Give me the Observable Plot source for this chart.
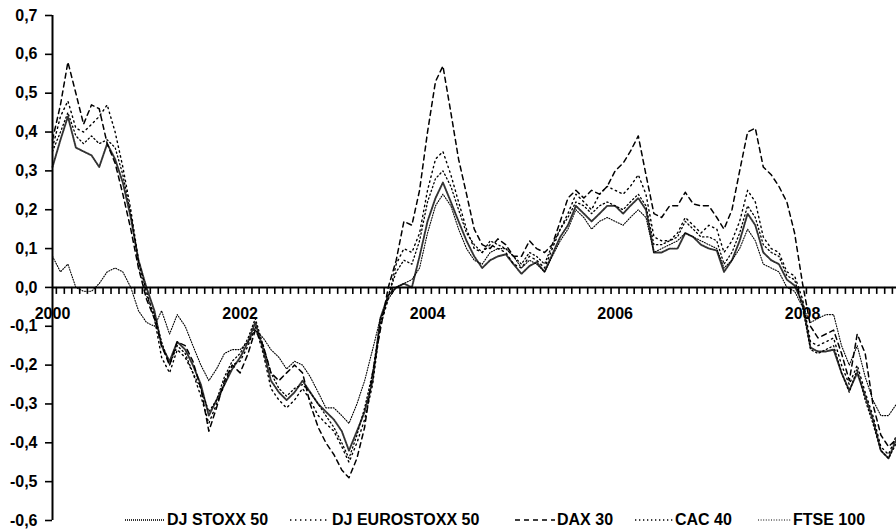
<!DOCTYPE html>
<html>
<head>
<meta charset="utf-8">
<script src="https://cdn.jsdelivr.net/npm/d3@7"></script>
<script src="https://cdn.jsdelivr.net/npm/@observablehq/plot@0.6"></script>
<style>
  html, body { margin: 0; padding: 0; background: #fff; }
  #wrap { position: relative; width: 896px; height: 529px; }
  #chart svg text { font-weight: bold; }
  #legend { position: absolute; left: 0; top: 510px; width: 896px; height: 19px;
            font-family: "Liberation Sans", Arial, sans-serif; font-weight: bold; font-size: 16px; }
  .item { position: absolute; top: 0; display: flex; align-items: center; height: 19px; white-space: nowrap; }
  .item svg { margin-right: 2px; }
</style>
</head>
<body>
<div id="wrap">
  <div id="chart"></div>
  <div id="legend"></div>
</div>
<script>
// Monthly 12-month returns, Jan 2000 – Jan 2009
const seriesNames = ["DJ STOXX 50", "DJ EUROSTOXX 50", "DAX 30", "CAC 40", "FTSE 100"];

const stoxx50 = [
  0.31, 0.38, 0.44, 0.36, 0.35, 0.34, 0.31, 0.37, 0.33, 0.27, 0.18, 0.07,
  0.00, -0.06, -0.15, -0.19, -0.14, -0.16, -0.20, -0.25, -0.33, -0.29, -0.25, -0.21,
  -0.18, -0.14, -0.09, -0.16, -0.24, -0.27, -0.29, -0.27, -0.24, -0.27, -0.30, -0.32,
  -0.34, -0.37, -0.42, -0.37, -0.32, -0.24, -0.08, -0.02, 0.00, 0.01, 0.00, 0.08,
  0.17, 0.23, 0.27, 0.22, 0.17, 0.12, 0.08, 0.05, 0.07, 0.08, 0.085, 0.06,
  0.035, 0.055, 0.065, 0.04, 0.085, 0.13, 0.16, 0.21, 0.19, 0.17, 0.19, 0.21,
  0.21, 0.19, 0.21, 0.23, 0.20, 0.09, 0.09, 0.10, 0.10, 0.14, 0.13, 0.11,
  0.10, 0.095, 0.04, 0.07, 0.12, 0.19, 0.16, 0.09, 0.07, 0.06, 0.02, 0.005,
  -0.04, -0.155, -0.165, -0.165, -0.16, -0.22, -0.265, -0.22, -0.28, -0.34, -0.42, -0.44,
  -0.39
];
const eurostoxx50 = [
  0.36, 0.44, 0.48, 0.41, 0.40, 0.42, 0.44, 0.47, 0.40, 0.31, 0.20, 0.07,
  -0.01, -0.08, -0.18, -0.22, -0.16, -0.18, -0.22, -0.28, -0.35, -0.30, -0.25, -0.20,
  -0.19, -0.15, -0.10, -0.17, -0.26, -0.29, -0.31, -0.29, -0.26, -0.29, -0.33, -0.35,
  -0.37, -0.41, -0.45, -0.40, -0.34, -0.25, -0.10, -0.03, 0.06, 0.10, 0.09, 0.14,
  0.25, 0.33, 0.35, 0.29, 0.22, 0.15, 0.10, 0.09, 0.11, 0.10, 0.09, 0.06,
  0.05, 0.08, 0.07, 0.05, 0.10, 0.15, 0.19, 0.24, 0.22, 0.20, 0.24, 0.26,
  0.25, 0.24, 0.26, 0.29, 0.24, 0.13, 0.12, 0.12, 0.14, 0.18, 0.16, 0.14,
  0.16, 0.15, 0.09, 0.12, 0.17, 0.25, 0.22, 0.13, 0.10, 0.09, 0.04, 0.03,
  -0.03, -0.14, -0.15, -0.14, -0.13, -0.20, -0.25, -0.20, -0.27, -0.33, -0.41, -0.43,
  -0.38
];
const dax30 = [
  0.38, 0.47, 0.58, 0.50, 0.42, 0.47, 0.46, 0.37, 0.32, 0.24, 0.15, 0.05,
  -0.03, -0.08, -0.15, -0.20, -0.14, -0.15, -0.19, -0.26, -0.37, -0.31, -0.24, -0.20,
  -0.22, -0.17, -0.11, -0.15, -0.22, -0.24, -0.22, -0.20, -0.22, -0.30, -0.36, -0.40,
  -0.43, -0.47, -0.49, -0.44, -0.36, -0.22, -0.11, 0.00, 0.07, 0.17, 0.16, 0.25,
  0.40, 0.53, 0.57, 0.45, 0.33, 0.24, 0.15, 0.11, 0.10, 0.125, 0.11, 0.08,
  0.08, 0.12, 0.10, 0.09, 0.11, 0.17, 0.23, 0.25, 0.23, 0.25, 0.24, 0.26,
  0.30, 0.32, 0.35, 0.39, 0.29, 0.19, 0.18, 0.21, 0.21, 0.245, 0.215, 0.21,
  0.21, 0.18, 0.15, 0.20, 0.30, 0.40, 0.41, 0.31, 0.29, 0.26, 0.22, 0.14,
  0.01, -0.10, -0.13, -0.12, -0.11, -0.17, -0.24, -0.12, -0.17, -0.30, -0.38, -0.41,
  -0.39
];
const cac40 = [
  0.35, 0.40, 0.45, 0.39, 0.37, 0.39, 0.37, 0.38, 0.36, 0.29, 0.19, 0.06,
  -0.02, -0.07, -0.14, -0.20, -0.15, -0.17, -0.22, -0.26, -0.32, -0.29, -0.23, -0.19,
  -0.17, -0.13, -0.08, -0.15, -0.22, -0.26, -0.28, -0.26, -0.25, -0.27, -0.30, -0.33,
  -0.36, -0.40, -0.44, -0.38, -0.31, -0.22, -0.09, -0.02, 0.04, 0.07, 0.06, 0.12,
  0.22, 0.28, 0.30, 0.26, 0.20, 0.14, 0.11, 0.09, 0.12, 0.11, 0.10, 0.08,
  0.06, 0.09, 0.08, 0.06, 0.11, 0.15, 0.18, 0.22, 0.21, 0.19, 0.21, 0.22,
  0.21, 0.20, 0.22, 0.24, 0.21, 0.11, 0.11, 0.12, 0.13, 0.17, 0.15, 0.13,
  0.13, 0.12, 0.06, 0.09, 0.14, 0.21, 0.18, 0.11, 0.09, 0.08, 0.03, 0.02,
  -0.05, -0.16, -0.17, -0.16, -0.15, -0.22, -0.27, -0.21, -0.29, -0.35, -0.42, -0.44,
  -0.40
];
const ftse100 = [
  0.08, 0.04, 0.06, 0.00, -0.01, -0.01, 0.01, 0.04, 0.05, 0.04, 0.00, -0.06,
  -0.09, -0.10, -0.06, -0.12, -0.07, -0.10, -0.15, -0.20, -0.24, -0.21, -0.17, -0.16,
  -0.16, -0.14, -0.11, -0.13, -0.16, -0.18, -0.21, -0.19, -0.20, -0.23, -0.27, -0.31,
  -0.31, -0.33, -0.35, -0.30, -0.24, -0.16, -0.08, -0.03, 0.00, 0.01, 0.02, 0.05,
  0.14, 0.21, 0.24, 0.21, 0.15, 0.10, 0.07, 0.06, 0.09, 0.10, 0.10, 0.08,
  0.05, 0.07, 0.06, 0.04, 0.08, 0.12, 0.15, 0.20, 0.18, 0.15, 0.17, 0.18,
  0.17, 0.16, 0.18, 0.20, 0.18, 0.09, 0.10, 0.11, 0.12, 0.14, 0.13, 0.12,
  0.11, 0.10, 0.05, 0.07, 0.10, 0.15, 0.12, 0.06, 0.05, 0.04, 0.00, -0.01,
  -0.05, -0.09, -0.08, -0.07, -0.07, -0.15, -0.20, -0.15, -0.23, -0.29, -0.33, -0.33,
  -0.30
];
const seriesValues = [stoxx50, eurostoxx50, dax30, cac40, ftse100];

const yearLabels = [2000, 2002, 2004, 2006, 2008];
const yTicks = [0.7, 0.6, 0.5, 0.4, 0.3, 0.2, 0.1, 0.0, -0.1, -0.2, -0.3, -0.4, -0.5, -0.6];

// line styles per series
const styles = {
  "DJ STOXX 50":     {stroke: "#333", strokeWidth: 1.9, dash: "1,1"},
  "DJ EUROSTOXX 50": {stroke: "#000", strokeWidth: 1.4, dash: "1.4,3.6"},
  "DAX 30":          {stroke: "#000", strokeWidth: 1.5, dash: "5,4"},
  "CAC 40":          {stroke: "#000", strokeWidth: 1.3, dash: "1.3,2.7"},
  "FTSE 100":        {stroke: "#000", strokeWidth: 1.1, dash: "1,1.6"}
};

const t0 = new Date(Date.UTC(2000, 0, 1));
const t1 = new Date(Date.UTC(2009, 0, 1));
const dates = d3.utcMonth.range(t0, new Date(Date.UTC(2009, 1, 1)));
const monthTicks = d3.utcMonth.range(t0, t1).map(d => new Date(+d + 15 * 864e5));

const fmt = v => (v < -1e-9 ? "-" : "") + Math.abs(v).toFixed(1).replace(".", ",");

const lineMarks = seriesNames.map((name, k) => {
  const s = styles[name];
  const rows = seriesValues[k].map((v, i) => ({date: dates[i], value: v}));
  return Plot.lineY(rows, {
    x: "date", y: "value", stroke: s.stroke, strokeWidth: s.strokeWidth,
    strokeDasharray: s.dash, strokeLinejoin: "round"
  });
});

const chart = Plot.plot({
  width: 896,
  height: 529,
  marginTop: 15,
  marginBottom: 9,
  marginLeft: 52,
  marginRight: 0,
  style: {fontFamily: "'Liberation Sans', Arial, sans-serif", fontSize: "16px", background: "#fff", color: "#000"},
  x: {type: "utc", domain: [t0, t1], axis: null},
  y: {domain: [-0.6, 0.7], axis: null},
  marks: [
    ...lineMarks,
    Plot.ruleY([0], {stroke: "#000", strokeWidth: 2}),
    Plot.ruleX(monthTicks, {x: d => d, y1: 0, y2: -0.018, stroke: "#000", strokeWidth: 1.6}),
    Plot.text(yearLabels, {
      x: d => new Date(Date.UTC(d, 0, 1)), y: 0, dy: 26, text: d => String(d),
      fontSize: 16, fontWeight: "bold", fill: "#000"
    }),
    Plot.ruleX([t0], {y1: -0.6, y2: 0.7, stroke: "#000", strokeWidth: 2}),
    Plot.axisY(yTicks, {
      label: null, tickSize: 7, tickPadding: 8, tickFormat: fmt, fontSize: 16, fontWeight: "bold",
      stroke: "#000", strokeWidth: 1.6
    })
  ]
});
document.getElementById("chart").appendChild(chart);

// Legend below the curves
const legendPos = [
  {left: 125, w: 40}, {left: 290, w: 40}, {left: 515, w: 40}, {left: 635, w: 38}, {left: 758, w: 33}
];
const legend = document.getElementById("legend");
seriesNames.forEach((name, k) => {
  const s = styles[name];
  const p = legendPos[k];
  const item = document.createElement("div");
  item.className = "item";
  item.style.left = p.left + "px";
  item.innerHTML =
    `<svg width="${p.w}" height="19"><line x1="0" x2="${p.w}" y1="10" y2="10" stroke="${s.stroke}" ` +
    `stroke-width="${s.strokeWidth}" stroke-dasharray="${s.dash}"/></svg><span>${name}</span>`;
  legend.appendChild(item);
});
</script>
</body>
</html>
